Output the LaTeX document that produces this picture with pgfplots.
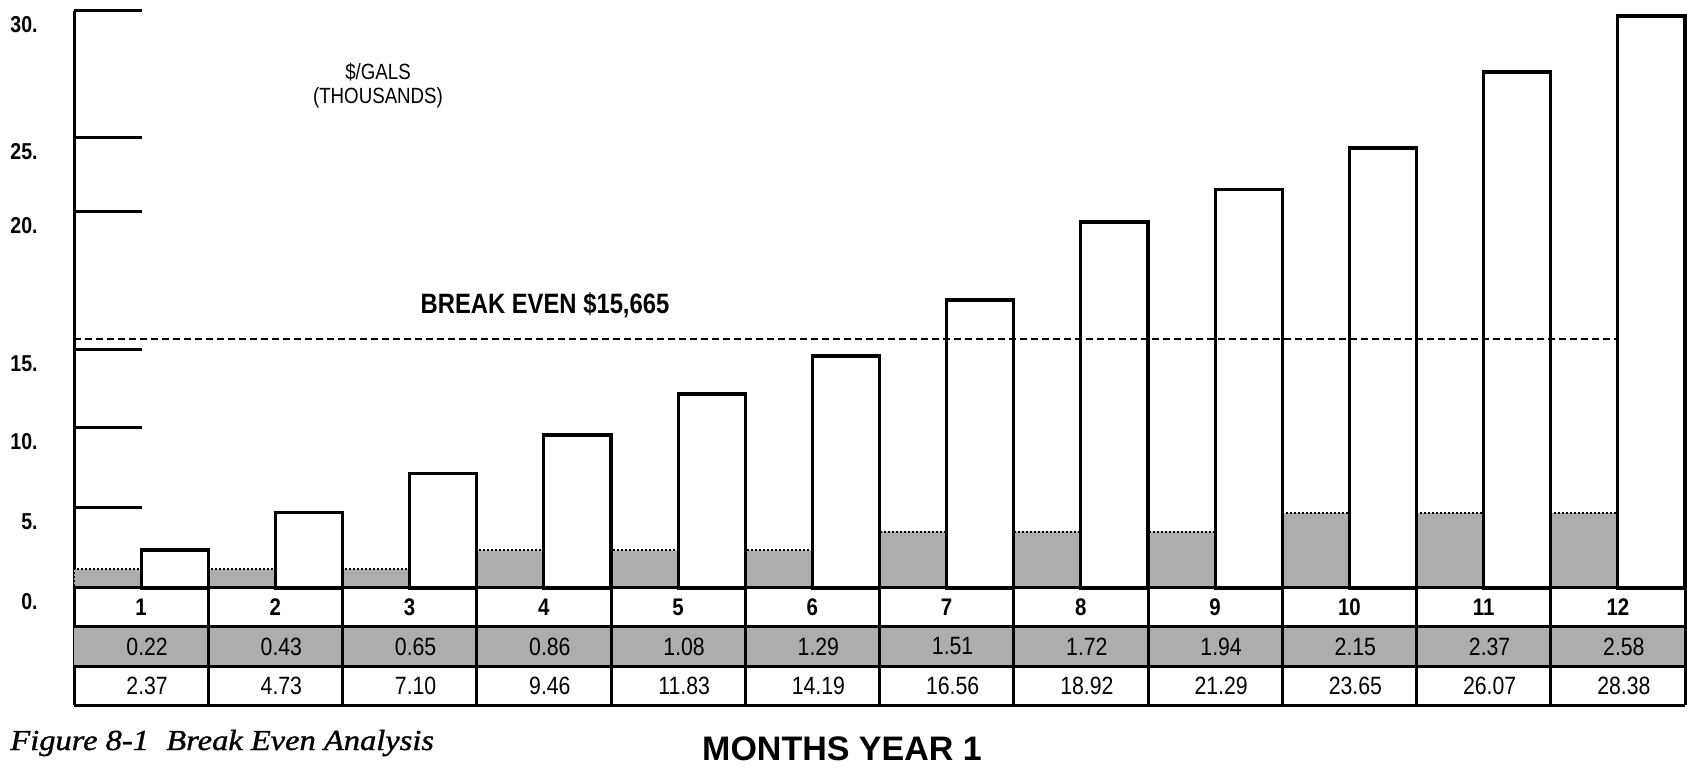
\documentclass[border=0pt]{standalone}
\usepackage{fontspec}
\setmainfont{Liberation Sans}
\newfontfamily\nar[FakeStretch=0.85]{Liberation Sans}
\newfontfamily\capfont[FakeStretch=1.12, FakeBold=1.2]{Liberation Serif}
\usepackage{pgfplots}
\usepackage{pgfplotstable}
\pgfplotsset{compat=1.18}

\definecolor{stipple}{gray}{0.68}

% month, cumulative revenue (white bars, row 3), cost (row 2), shaded bars
\pgfplotstableread{
month rev   cost fixed
1     2.37  0.22 1.17
2     4.73  0.43 1.17
3     7.10  0.65 1.17
4     9.46  0.86 2.35
5     11.83 1.08 2.35
6     14.19 1.29 2.35
7     16.56 1.51 3.52
8     18.92 1.72 3.52
9     21.29 1.94 3.52
10    23.65 2.15 4.70
11    26.07 2.37 4.70
12    28.38 2.58 4.70
}\data

\begin{document}
\begin{tikzpicture}
\begin{axis}[
    name=ax, at={(0,0)}, anchor=south west,
    scale only axis, width=805.5pt, height=347pt,
    xmin=0.5, xmax=12.5, ymin=-7.3125, ymax=30,
    % the printed scale is uneven: follow it piece by piece
    y coord trafo/.code={\pgfmathparse{16*(#1) + 0.368*max((#1)-5,0) - 3.405*max((#1)-9.46,0)
        + 5.616*max((#1)-10,0) - 2.477*max((#1)-11.83,0) - 8.695*max((#1)-14.19,0)
        + 9.134*max((#1)-15,0) + 27.034*max((#1)-15.665,0) - 10.524*max((#1)-16.56,0)
        - 23.792*max((#1)-18.92,0) + 8.275*max((#1)-20,0) - 10.127*max((#1)-23.65,0)
        + 54.275*max((#1)-25,0) - 37.44*max((#1)-26.07,0) - 21.156*max((#1)-28.38,0)}},
    axis x line=none, axis y line=left,
    y axis line style={-, line width=1.5pt},
    ytick={0,5,10,15,20,25,30},
    yticklabels={0.,5.,10.,15.,20.,25.,30.},
    ytick pos=left, tick align=inside, major tick length=34pt,
    ytick style={line width=1.5pt, black},
    yticklabel style={font=\nar\bfseries\fontsize{11.5}{12}\selectfont,
        anchor=east, inner sep=0pt, xshift=-18pt, yshift=-7pt},
    clip=false,
]
\addplot[ybar, bar width=0.5, bar shift=-0.25, fill=stipple, draw=black,
    densely dotted, line width=1pt] table[x=month, y=fixed] {\data};
\addplot[ybar, bar width=0.5, bar shift=0.25, fill=white, draw=black,
    line width=1.6pt] table[x=month, y=rev] {\data};
\addplot[black, line width=1.2pt, dash pattern=on 3.5pt off 2pt]
    coordinates {(0.5,15.665) (12,15.665)};

% table under the bars
\fill[stipple] (axis cs:0.5,-2.4375) rectangle (axis cs:12.5,-4.875);
\addplot[draw=none, mark=none, point meta=explicit symbolic, nodes near coords,
    every node near coord/.append style={anchor=center, inner sep=0pt,
        font=\nar\bfseries\fontsize{12}{13}\selectfont}]
    table[x=month, y expr=-1.21875, meta=month] {\data};
\addplot[draw=none, mark=none, point meta=explicit symbolic, nodes near coords,
    every node near coord/.append style={anchor=center, inner sep=0pt, xshift=3pt,
        font=\nar\fontsize{12.5}{13}\selectfont}]
    table[x=month, y expr=-3.65625, meta=cost] {\data};
\addplot[draw=none, mark=none, point meta=explicit symbolic, nodes near coords,
    every node near coord/.append style={anchor=center, inner sep=0pt, xshift=3pt,
        font=\nar\fontsize{12.5}{13}\selectfont}]
    table[x=month, y expr=-6.09375, meta=rev] {\data};
\end{axis}

\begin{scope}[x=0.5pt, y=0.5pt]
\path (-74,-61) rectangle (1613,705);
\foreach \h in {0,39,78,117} \draw[line width=1.5pt] (0,\h) -- (1611,\h);
\foreach \k in {1,...,12} \draw[line width=1.5pt] ({\k*134.25},0) -- ({\k*134.25},117);

\node[font=\nar\fontsize{11}{12}\selectfont, align=center, inner sep=0pt]
    at (304,619) {\$/GALS\\(THOUSANDS)};
\node[font=\nar\bfseries\fontsize{14}{16}\selectfont, inner sep=0pt]
    at (471,400) {BREAK EVEN \$15,665};
\node[font=\capfont\itshape\fontsize{14.5}{16}\selectfont, anchor=base west, inner sep=0pt]
    at (-64,-45) {Figure 8-1\hspace{0.6em}Break Even Analysis};
\node[font=\bfseries\fontsize{17}{19}\selectfont, anchor=base, inner sep=0pt]
    at (768,-55) {MONTHS YEAR 1};
\end{scope}
\end{tikzpicture}
\end{document}
